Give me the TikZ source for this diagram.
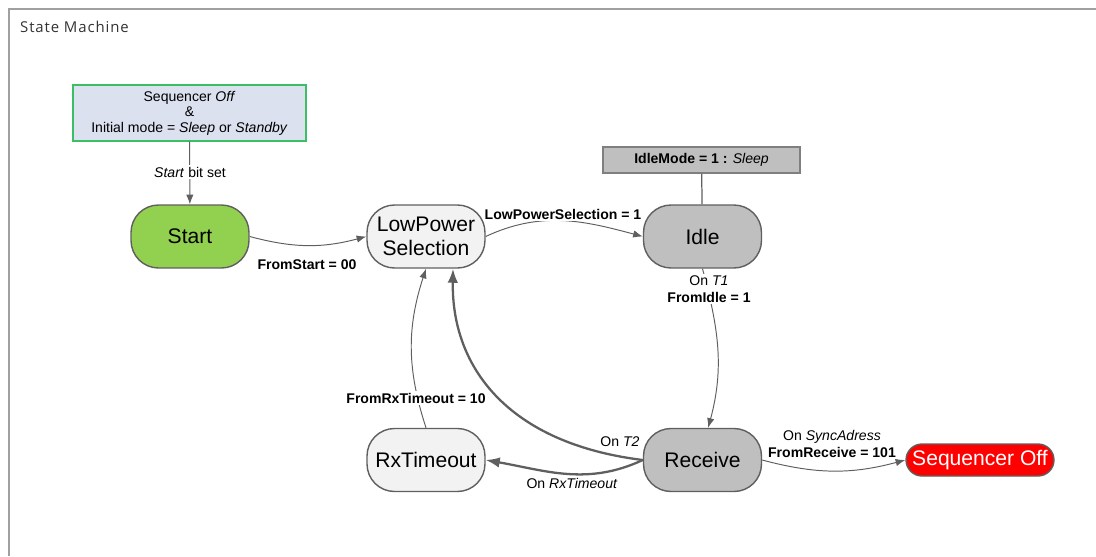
\documentclass[tikz,border=0pt]{standalone}
\usepackage{fontspec}
\usetikzlibrary{arrows.meta}
\setmainfont{Liberation Sans}
\newfontfamily\titlefont[LetterSpace=6]{Open Sans}
\definecolor{edgegray}{HTML}{5F5F5F}
\definecolor{framegray}{HTML}{A0A0A0}
\definecolor{initblue}{HTML}{DCE1EF}
\definecolor{initgreen}{HTML}{3CBE64}
\definecolor{startgreen}{HTML}{92D050}
\definecolor{paleface}{HTML}{F2F2F2}
\definecolor{midface}{HTML}{BFBFBF}
\definecolor{offred}{HTML}{FF0000}
\begin{document}
\begin{tikzpicture}[>={Latex[length=5.5pt,width=4.2pt]}, x=0.02cm, y=0.02cm,
  state/.style={draw=edgegray, line width=0.8pt, rounded corners=0.55cm, minimum width=2.36cm,
    minimum height=1.26cm, inner sep=1pt, align=center, font=\fontsize{12}{14}\selectfont},
  trans/.style={->, draw=edgegray, line width=0.55pt},
  bigtrans/.style={-{Latex[length=8pt,width=6pt]}, draw=edgegray, line width=1.3pt},
  lbl/.style={inner sep=1pt, align=center, font=\fontsize{8}{9.6}\selectfont}]
\useasboundingbox (0,0) rectangle (1096,556);
% frame and title
\draw[framegray, line width=0.7pt] (9,0) -- (9,547) -- (1096,547);
\node[anchor=west, text=black!80, font=\titlefont\fontsize{8.5}{10}\selectfont] (title) at (14,529) {State Machine};
% condition boxes
\node[draw=initgreen, fill=initblue, line width=0.8pt, minimum width=4.66cm, minimum height=1.12cm,
  align=center, inner sep=1pt, font=\fontsize{8}{8.9}\selectfont] (init) at (189.5,443)
  {Sequencer \textit{Off}\\\&\\Initial mode = \textit{Sleep} or \textit{Standby}};
\node[draw=edgegray!80, fill=midface, line width=0.7pt, minimum width=3.94cm, minimum height=0.52cm,
  inner sep=1pt, font=\fontsize{8}{9.6}\selectfont] (idlemode) at (701.5,396)
  {\textbf{IdleMode = 1 :} \textit{Sleep}};
% states
\node[state, fill=startgreen] (start) at (190,319.5) {Start};
\node[state, fill=paleface] (lps) at (426,319.5) {LowPower\\Selection};
\node[state, fill=midface] (idle) at (702.5,319.5) {Idle};
\node[state, fill=midface] (recv) at (702.5,96) {Receive};
\node[state, fill=paleface] (rxto) at (426,96) {RxTimeout};
\node[state, fill=offred, text=white, minimum width=2.96cm, minimum height=0.64cm,
  rounded corners=0.32cm] (seqoff) at (980,96) {Sequencer Off};
% transitions
\draw[trans] (init) -- (start);
\draw[edgegray, line width=0.7pt] (idlemode) -- (idle);
\draw[trans] (start.east) to[out=-15, in=195] (lps.west);
\draw[trans] (lps.east) to[out=25, in=165] (idle.west);
\draw[trans] (idle.south) to[out=-75, in=75] (recv.80);
\draw[bigtrans] (recv.west) .. controls +(173:134) and +(-91:100) .. (lps.-50);
\draw[bigtrans] (recv.west) to[out=205, in=-10] (rxto.east);
\draw[trans] (rxto.north) to[out=108, in=-108] (lps.south);
\draw[trans] (recv.east) to[out=-15, in=195] (seqoff.west);
% labels
\node[lbl, fill=white] (lstart) at (190,384) {\textit{Start} bit set};
\node[lbl, font=\bfseries\fontsize{8}{9.6}\selectfont] (lfromstart) at (307,291) {FromStart = 00};
\node[lbl, fill=white, font=\bfseries\fontsize{8}{9.6}\selectfont] (llps) at (563,342) {LowPowerSelection = 1};
\node[lbl, fill=white] (lidle) at (709,267) {On \textit{T1}\\\textbf{FromIdle = 1}};
\node[lbl] (lt2) at (620,114) {On \textit{T2}};
\node[lbl] (lrxto) at (572,73) {On \textit{RxTimeout}};
\node[lbl, fill=white, font=\bfseries\fontsize{8}{9.6}\selectfont] (lfromrx) at (416,158) {FromRxTimeout = 10};
\node[lbl] (lrecv) at (832,112) {On \textit{SyncAdress}\\\textbf{FromReceive = 101}};
\end{tikzpicture}
\end{document}
